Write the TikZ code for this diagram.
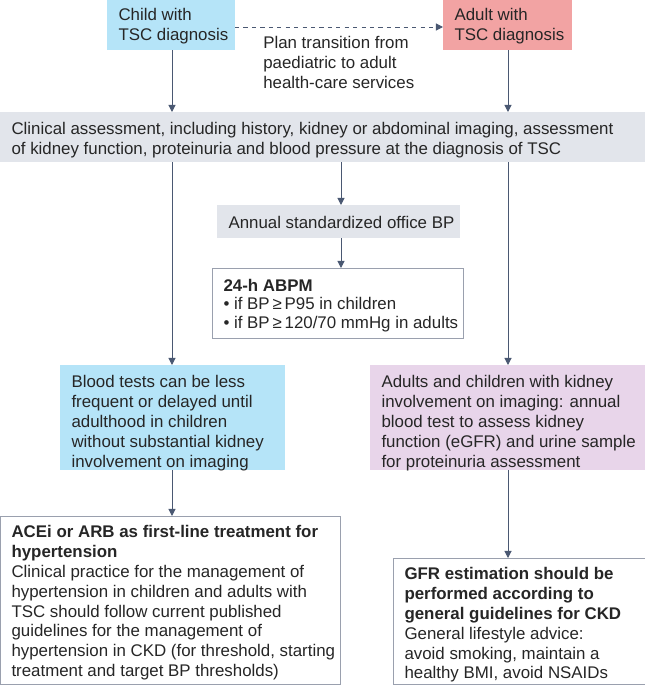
\documentclass[tikz,border=0pt]{standalone}
\usepackage{fontspec}
\setmainfont{Liberation Sans}
\usetikzlibrary{arrows.meta,positioning}
\definecolor{childblue}{HTML}{B5E4F8}
\definecolor{adultred}{HTML}{F2A3A3}
\definecolor{assessgray}{HTML}{E2E5EB}
\definecolor{lavender}{HTML}{E8D5EA}
\definecolor{framegray}{HTML}{9AA0AE}
\definecolor{arrowslate}{HTML}{4A5872}
\tikzset{
  box/.style={anchor=north west, inner xsep=8pt, inner ysep=4pt, align=left, font=\fontsize{12}{14.2}\selectfont, text=black!85},
  frame/.style={draw=framegray, line width=0.6pt, fill=white},
  flow/.style={-{Triangle[length=5pt,width=5pt]}, line width=0.7pt, draw=arrowslate},
}
\begin{document}
\begin{tikzpicture}[x=0.025cm,y=-0.025cm]
    \useasboundingbox (0,0) rectangle (645,685);
    % top boxes
    \fill[childblue] (107,0) rectangle (235,50);
    \node[box] (child) at (107,2) {Child with\\TSC diagnosis};
    \fill[adultred] (443,0) rectangle (572,50);
    \node[box] (adult) at (443,2) {Adult with\\TSC diagnosis};
    \coordinate (childR) at (235,27);
    \coordinate (adultL) at (443,27);
    \draw[flow, dashed] (childR) -- (adultL);
    \node[box, inner xsep=0pt] (plan) at (263,30) {Plan transition from\\paediatric to adult\\health-care services};
    % clinical assessment
    \fill[assessgray] (0,112) rectangle (645,162);
    \node[box] (clin) at (0,116) {Clinical assessment, including history, kidney or abdominal imaging, assessment\\of kidney function, proteinuria and blood pressure at the diagnosis of TSC};
    % middle column
    \fill[assessgray] (217,205) rectangle (460,238);
    \node[box] (annual) at (217,210) {Annual standardized office BP};
    \draw[frame] (212,268) rectangle (463,338);
    \node[box] (abpm) at (212,273) {\textbf{24-h ABPM}\\[-1pt]
      \textbullet\ if BP\,≥\,P95 in children\\[-1pt]
      \textbullet\ if BP\,≥\,120/70 mmHg in adults};
    % side boxes
    \fill[childblue] (60,365) rectangle (285,470);
    \node[box] (blood) at (60,369) {Blood tests can be less\\frequent or delayed until\\adulthood in children\\without substantial kidney\\involvement on imaging};
    \fill[lavender] (370,365) rectangle (645,470);
    \node[box] (adultkid) at (370,369) {Adults and children with kidney\\involvement on imaging: annual\\blood test to assess kidney\\function (eGFR) and urine sample\\for proteinuria assessment};
    % bottom boxes
    \draw[frame] (0,516) rectangle (340,684.5);
    \node[box] (acei) at (0,519) {\textbf{ACEi or ARB as first-line treatment for}\\\textbf{hypertension}\\Clinical practice for the management of\\hypertension in children and adults with\\TSC should follow current published\\guidelines for the management of\\hypertension in CKD (for threshold, starting\\treatment and target BP thresholds)};
    \draw[frame] (393,558) rectangle (645,684.5);
    \node[box] (gfr) at (393,561) {\textbf{GFR estimation should be}\\\textbf{performed according to}\\\textbf{general guidelines for CKD}\\General lifestyle advice:\\avoid smoking, maintain a\\healthy BMI, avoid NSAIDs};
    % connectors
    \coordinate (c1) at (172,50);  \coordinate (c2) at (172,112);
    \coordinate (a1) at (508,50);  \coordinate (a2) at (508,112);
    \coordinate (m1) at (341,162); \coordinate (m2) at (341,205);
    \coordinate (m3) at (341,238); \coordinate (m4) at (341,268);
    \coordinate (l1) at (172,162); \coordinate (l2) at (172,365);
    \coordinate (r1) at (508,162); \coordinate (r2) at (508,365);
    \coordinate (l3) at (172,470); \coordinate (l4) at (172,516);
    \coordinate (r3) at (508,470); \coordinate (r4) at (508,558);
    \foreach \s/\t in {c1/c2,a1/a2,m1/m2,m3/m4,l1/l2,r1/r2,l3/l4,r3/r4}
        \draw[flow] (\s) -- (\t);
\end{tikzpicture}
\end{document}
